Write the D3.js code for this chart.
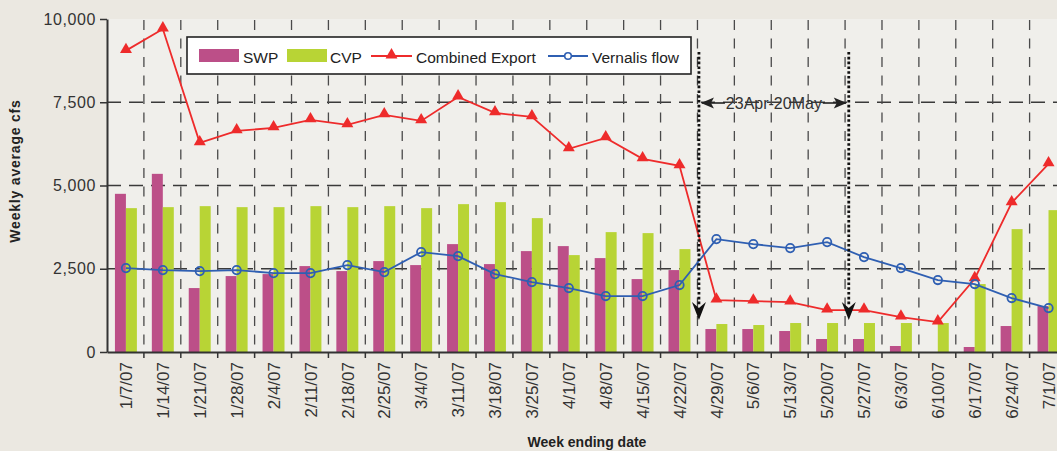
<!DOCTYPE html>
<html>
<head>
<meta charset="utf-8">
<script src="https://cdn.jsdelivr.net/npm/d3@7"></script>
<style>
  html, body { margin: 0; padding: 0; background: #ebe8e1; overflow: hidden; }
  svg { display: block; }
  text { font-family: Arial, "Liberation Sans", sans-serif; }
</style>
</head>
<body>
<svg id="chart" width="1057" height="451"></svg>
<script>
// Weekly export and flow data, January - July 2007
const weeks = ["1/7/07","1/14/07","1/21/07","1/28/07","2/4/07","2/11/07","2/18/07","2/25/07",
  "3/4/07","3/11/07","3/18/07","3/25/07","4/1/07","4/8/07","4/15/07","4/22/07",
  "4/29/07","5/6/07","5/13/07","5/20/07","5/27/07","6/3/07","6/10/07","6/17/07","6/24/07","7/1/07"];

const swp = [4750,5350,1920,2280,2340,2580,2430,2730,2610,3240,2640,3030,3180,2820,2190,2460,
  690,690,630,390,390,180,0,150,780,1380];

const cvp = [4320,4350,4380,4350,4350,4380,4350,4380,4320,4440,4500,4020,2910,3600,3570,3090,
  840,810,870,870,870,870,870,2040,3690,4260];

const combinedExport = [9050,9700,6280,6640,6730,6970,6820,7120,6940,7660,7180,7060,6100,6430,5800,5590,
  1560,1530,1500,1260,1260,1050,900,2200,4480,5650];

const vernalisFlow = [2520,2460,2430,2460,2370,2370,2610,2400,3000,2880,2340,2100,1920,1680,1680,2010,
  3390,3240,3120,3300,2850,2520,2160,2040,1620,1320];

const yTicks = [0, 2500, 5000, 7500, 10000];
const seriesNames = ["SWP", "CVP", "Combined Export", "Vernalis flow"];
const windowWeeks = ["4/29/07", "5/27/07"];
const windowLabel = "23Apr-20May";

const colors = { swp: "#bc4f88", cvp: "#b8d435", exp: "#ee2b2b", ver: "#2f5fb2", ink: "#333" };

const svg = d3.select("#chart");
const m = { left: 107, top: 19, right: 1066.5, bottom: 352 };

const x = d3.scaleBand().domain(weeks).range([m.left, m.right]).paddingInner(0).paddingOuter(0);
const bw = x.bandwidth();
const xSub = d3.scaleBand().domain(["swp", "cvp"]).range([bw * 0.215, bw * 0.81]);
const y = d3.scaleLinear().domain([0, 10000]).range([m.bottom, m.top]);
const cx = d => x(d) + bw / 2 + 0.5;

// plot area background
svg.append("rect").attr("x", m.left).attr("y", m.top)
  .attr("width", m.right - m.left).attr("height", m.bottom - m.top)
  .attr("fill", "#f0efeb");

// gridlines
const grid = svg.append("g");
grid.selectAll("line.h").data(yTicks.filter(t => t > 0 && t < 10000)).join("line")
  .attr("x1", m.left).attr("x2", m.right)
  .attr("y1", d => y(d)).attr("y2", d => y(d))
  .attr("stroke", "#3a3a3a").attr("stroke-width", 1.3).attr("stroke-dasharray", "14,8");
grid.selectAll("line.v").data(weeks.slice(1)).join("line")
  .attr("x1", d => x(d)).attr("x2", d => x(d))
  .attr("y1", m.top + 1).attr("y2", m.bottom)
  .attr("stroke", "#4a4a4a").attr("stroke-width", 1.3).attr("stroke-dasharray", "10,8.5");

// bars
const bars = svg.append("g");
bars.selectAll("rect.swp").data(weeks).join("rect")
  .attr("x", d => x(d) + xSub("swp")).attr("width", xSub.bandwidth())
  .attr("y", (d, i) => y(swp[i])).attr("height", (d, i) => y(0) - y(swp[i]))
  .attr("fill", colors.swp);
bars.selectAll("rect.cvp").data(weeks).join("rect")
  .attr("x", d => x(d) + xSub("cvp")).attr("width", xSub.bandwidth())
  .attr("y", (d, i) => y(cvp[i])).attr("height", (d, i) => y(0) - y(cvp[i]))
  .attr("fill", colors.cvp);

// lines
const line = d3.line().x((d, i) => cx(weeks[i])).y(d => y(d));
const triangle = d3.symbol().type(d3.symbolTriangle).size(62);

svg.append("path").datum(combinedExport).attr("d", line)
  .attr("fill", "none").attr("stroke", colors.exp).attr("stroke-width", 1.8);
svg.append("g").selectAll("path").data(combinedExport).join("path")
  .attr("d", triangle)
  .attr("transform", (d, i) => `translate(${cx(weeks[i])},${y(d) - 1})`)
  .attr("fill", colors.exp);

svg.append("path").datum(vernalisFlow).attr("d", line)
  .attr("fill", "none").attr("stroke", colors.ver).attr("stroke-width", 1.8);
svg.append("g").selectAll("circle").data(vernalisFlow).join("circle")
  .attr("cx", (d, i) => cx(weeks[i])).attr("cy", d => y(d)).attr("r", 4.2)
  .attr("fill", "none").attr("stroke", colors.ver).attr("stroke-width", 1.8);

// axes
const yAxis = svg.append("g").attr("transform", `translate(${m.left},0)`)
  .call(d3.axisLeft(y).tickValues(yTicks).tickFormat(d3.format(",")).tickSize(7).tickSizeOuter(0));
yAxis.select(".domain").attr("stroke", "#333").attr("stroke-width", 2);
yAxis.selectAll(".tick line").attr("stroke", "#333").attr("stroke-width", 1.5);
yAxis.selectAll(".tick text").attr("x", -11).attr("fill", colors.ink)
  .style("font-size", "16px").style("letter-spacing", "0.6px");

const xAxis = svg.append("g").attr("transform", `translate(0,${m.bottom})`)
  .call(d3.axisBottom(x).tickSize(0).tickSizeOuter(0));
xAxis.select(".domain").attr("stroke", "#333").attr("stroke-width", 2.2);
xAxis.selectAll(".tick text")
  .attr("transform", "rotate(-90)")
  .attr("x", -10).attr("y", 0.5).attr("dy", "0.36em")
  .attr("text-anchor", "end").attr("fill", colors.ink)
  .style("font-size", "17px");
// boundary ticks between weeks
svg.append("g").selectAll("line").data(weeks.slice(1)).join("line")
  .attr("x1", d => x(d)).attr("x2", d => x(d))
  .attr("y1", m.bottom).attr("y2", m.bottom + 6)
  .attr("stroke", "#333").attr("stroke-width", 1.5);

// axis titles
svg.append("text").attr("transform", `translate(20,${(97 + 245) / 2}) rotate(-90)`)
  .attr("text-anchor", "middle").attr("font-weight", "bold")
  .style("font-size", "14px").style("letter-spacing", "0.8px").attr("fill", "#222")
  .text("Weekly average cfs");
svg.append("text").attr("x", 587).attr("y", 447)
  .attr("text-anchor", "middle").attr("font-weight", "bold")
  .style("font-size", "14px").attr("fill", "#222")
  .text("Week ending date");

// pumping window annotation
const xa = x(windowWeeks[0]) + bw * 0.04;
const xb = x(windowWeeks[1]) + bw * 0.1;
const ann = svg.append("g");
[xa, xb].forEach(xx => {
  ann.append("line").attr("x1", xx).attr("x2", xx).attr("y1", 52).attr("y2", 306)
    .attr("stroke", "#111").attr("stroke-width", 2.8).attr("stroke-dasharray", "2.6,2.2");
  ann.append("path")
    .attr("d", `M${xx - 7},302 L${xx},320 L${xx + 7},302 L${xx},308 Z`)
    .attr("fill", "#111");
});
const ay = 103;
ann.append("line").attr("x1", xa + 3).attr("x2", xa + 26).attr("y1", ay).attr("y2", ay)
  .attr("stroke", "#222").attr("stroke-width", 1.6);
ann.append("line").attr("x1", xb - 26).attr("x2", xb - 3).attr("y1", ay).attr("y2", ay)
  .attr("stroke", "#222").attr("stroke-width", 1.6);
ann.append("path").attr("d", `M${xa + 2},${ay} L${xa + 15},${ay - 5.5} L${xa + 12},${ay} L${xa + 15},${ay + 5.5} Z`)
  .attr("fill", "#222");
ann.append("path").attr("d", `M${xb - 2},${ay} L${xb - 15},${ay - 5.5} L${xb - 12},${ay} L${xb - 15},${ay + 5.5} Z`)
  .attr("fill", "#222");
ann.append("text").attr("x", (xa + xb) / 2).attr("y", ay).attr("dy", "0.36em")
  .attr("text-anchor", "middle").attr("fill", "#333").style("font-size", "16px")
  .text(windowLabel);

// legend
const lg = svg.append("g");
lg.append("rect").attr("x", 187).attr("y", 37).attr("width", 504).attr("height", 37)
  .attr("fill", "#fff").attr("stroke", "#222").attr("stroke-width", 1.6);
const ly = 56;
lg.append("rect").attr("x", 199).attr("y", 49).attr("width", 40).attr("height", 13).attr("fill", colors.swp);
lg.append("rect").attr("x", 287).attr("y", 49).attr("width", 40).attr("height", 13).attr("fill", colors.cvp);
lg.append("line").attr("x1", 371).attr("x2", 412).attr("y1", ly).attr("y2", ly)
  .attr("stroke", colors.exp).attr("stroke-width", 1.8);
lg.append("path").attr("d", triangle).attr("transform", `translate(391.5,${ly - 1})`).attr("fill", colors.exp);
lg.append("line").attr("x1", 548).attr("x2", 588).attr("y1", ly).attr("y2", ly)
  .attr("stroke", colors.ver).attr("stroke-width", 1.8);
lg.append("circle").attr("cx", 568).attr("cy", ly).attr("r", 3.3)
  .attr("fill", "#fff").attr("stroke", colors.ver).attr("stroke-width", 1.6);
const labelX = [243, 330, 416, 592];
lg.selectAll("text").data(seriesNames).join("text")
  .attr("x", (d, i) => labelX[i]).attr("y", ly + 1).attr("dy", "0.36em")
  .attr("fill", "#222").style("font-size", "15.5px")
  .text(d => d);
</script>
</body>
</html>
